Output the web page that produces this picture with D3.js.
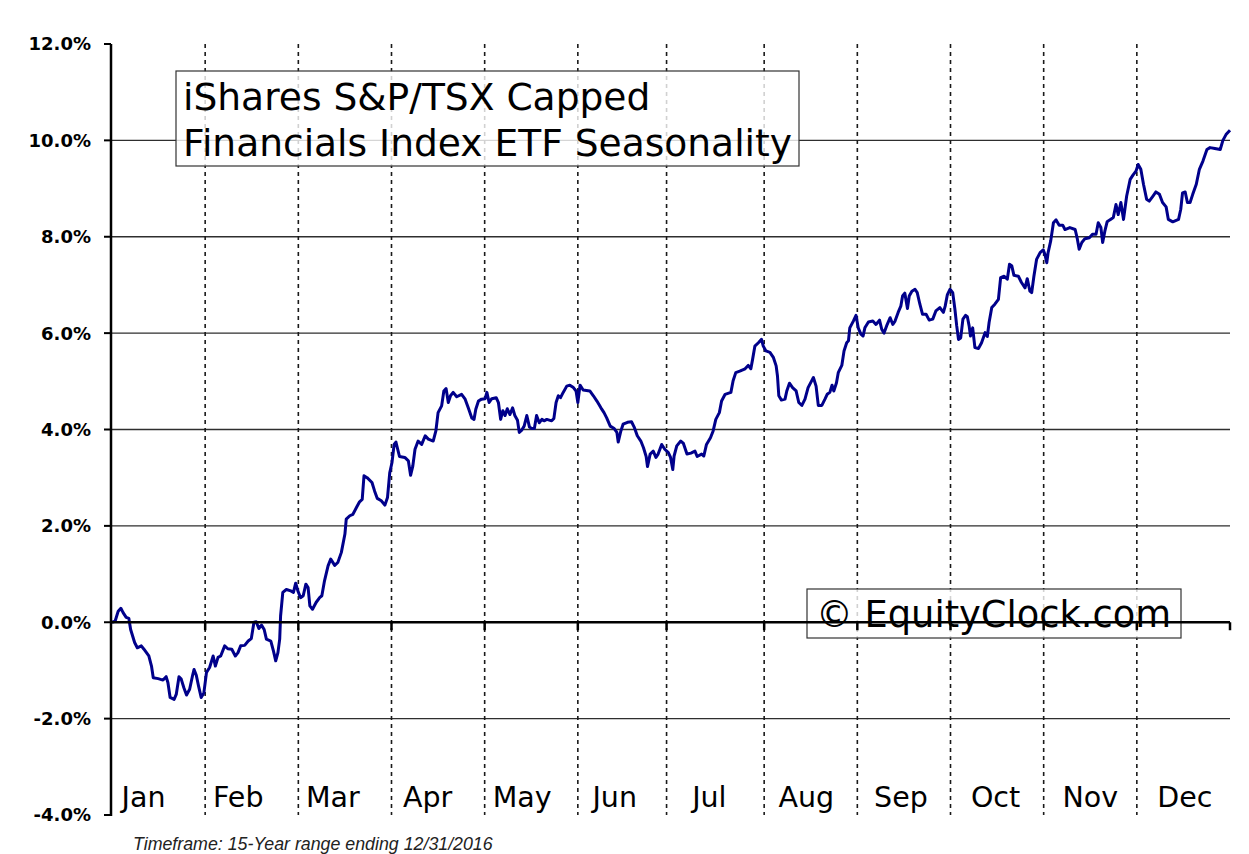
<!DOCTYPE html>
<html>
<head>
<meta charset="utf-8">
<script src="https://cdn.jsdelivr.net/npm/d3@7"></script>
<style>
  body { margin: 0; background: #ffffff; }
  svg { display: block; }
</style>
</head>
<body>
<div id="chart"></div>
<script>
// Valores de la curva estacional: [día de negociación, rendimiento medio %]
const seasonal = [
  [0,0],[0.7,0.02],[1.4,0.23],[2.0,0.29],[2.5,0.20],[3.2,0.10],[3.8,0.08],[4.2,-0.15],[5.1,-0.42],[5.7,-0.53],
  [6.6,-0.49],[7.2,-0.56],[8.3,-0.70],[8.9,-0.91],[9.3,-1.15],[10.4,-1.17],[11.5,-1.20],[12.2,-1.13],[12.6,-1.25],[13.1,-1.56],
  [14.0,-1.60],[14.5,-1.49],[15.1,-1.13],[15.6,-1.18],[16.2,-1.36],[16.8,-1.51],[17.5,-1.39],[18.1,-1.13],[18.5,-0.98],[19.0,-1.10],
  [19.5,-1.32],[20.1,-1.56],[20.7,-1.47],[21.3,-1.04],[22.0,-0.94],[22.8,-0.70],[23.3,-0.91],[23.9,-0.73],[24.5,-0.70],[25.4,-0.49],
  [26.1,-0.55],[27.0,-0.56],[27.8,-0.70],[28.4,-0.63],[29.0,-0.49],[29.9,-0.48],[30.7,-0.39],[31.4,-0.34],[32.0,0.00],[32.5,0.01],
  [33.1,-0.13],[33.7,-0.06],[34.3,-0.15],[34.8,-0.35],[35.8,-0.39],[36.4,-0.60],[36.9,-0.80],[37.4,-0.63],[37.8,-0.35],[38.0,0.13],
  [38.5,0.62],[39.3,0.68],[40.3,0.65],[40.9,0.62],[41.4,0.81],[41.9,0.65],[42.5,0.51],[43.1,0.55],[43.7,0.79],[44.2,0.72],
  [44.6,0.34],[45.2,0.27],[46.0,0.41],[46.8,0.51],[47.3,0.55],[47.9,0.86],[48.7,1.17],[49.3,1.31],[50.2,1.18],[50.9,1.24],
  [51.7,1.45],[52.5,1.83],[52.8,2.14],[53.6,2.21],[54.3,2.24],[55.1,2.38],[55.8,2.50],[56.4,2.55],[56.8,3.04],[57.5,3.00],
  [58.6,2.90],[59.2,2.72],[59.8,2.57],[60.7,2.52],[61.5,2.43],[62.1,2.59],[62.6,3.10],[63.1,3.31],[63.6,3.69],[64.0,3.74],
  [64.8,3.44],[66.0,3.42],[66.8,3.35],[67.3,3.05],[67.8,3.24],[68.3,3.59],[69.0,3.76],[69.8,3.69],[70.6,3.87],[71.3,3.80],
  [72.4,3.76],[73.0,3.97],[73.5,4.35],[74.3,4.49],[74.8,4.80],[75.3,4.85],[75.8,4.56],[76.3,4.70],[76.9,4.77],[77.7,4.68],
  [78.8,4.73],[79.6,4.63],[80.3,4.45],[81.1,4.24],[81.6,4.21],[82.0,4.42],[82.6,4.59],[83.3,4.63],[84.1,4.64],[84.5,4.77],
  [85.0,4.56],[85.6,4.64],[86.6,4.66],[87.1,4.56],[87.6,4.21],[88.1,4.39],[88.6,4.29],[89.1,4.43],[89.7,4.31],[90.3,4.45],
  [90.8,4.29],[91.4,4.19],[91.8,3.94],[92.3,3.98],[92.9,4.07],[93.5,4.29],[94.1,4.05],[94.6,4.02],[95.2,4.02],[95.7,4.29],
  [96.3,4.14],[96.9,4.21],[97.4,4.18],[98.0,4.21],[99.1,4.18],[99.6,4.23],[100.1,4.56],[100.6,4.70],[101.1,4.66],[101.7,4.77],
  [102.5,4.90],[103.2,4.92],[104.0,4.87],[104.6,4.80],[105.0,4.56],[105.5,4.92],[106.2,4.82],[107.7,4.80],[108.5,4.70],[109.3,4.59],
  [110.2,4.45],[110.9,4.35],[111.5,4.24],[112.3,4.07],[113.2,4.02],[113.8,3.94],[114.1,3.74],[114.7,3.97],[115.2,4.11],[116.2,4.15],
  [117.1,4.16],[117.7,4.05],[118.4,3.87],[119.2,3.76],[119.8,3.62],[120.4,3.44],[120.7,3.23],[121.3,3.49],[122.0,3.55],[122.6,3.42],
  [123.1,3.49],[123.9,3.69],[124.6,3.59],[125.4,3.52],[125.9,3.42],[126.4,3.17],[126.7,3.45],[127.3,3.66],[128.2,3.76],[128.8,3.71],
  [129.6,3.49],[130.5,3.51],[131.4,3.55],[131.9,3.44],[132.9,3.49],[133.4,3.45],[134.0,3.69],[134.9,3.83],[135.5,3.97],[136.1,4.21],
  [136.9,4.35],[137.4,4.59],[138.2,4.73],[139.5,4.77],[140.0,5.01],[140.6,5.18],[141.5,5.21],[142.7,5.26],[143.4,5.33],[144.0,5.26],
  [144.4,5.46],[144.9,5.73],[145.7,5.80],[146.4,5.87],[146.8,5.73],[147.4,5.63],[148.3,5.60],[149.1,5.49],[149.7,5.32],[150.0,5.11],
  [150.3,4.70],[150.9,4.61],[151.7,4.63],[152.1,4.80],[152.7,4.96],[153.4,4.87],[154.2,4.80],[154.8,4.56],[155.5,4.50],[156.2,4.63],
  [156.9,4.87],[157.7,5.01],[158.1,5.08],[158.7,4.90],[159.2,4.50],[160.0,4.50],[160.7,4.63],[161.2,4.73],[161.8,4.77],[162.3,4.92],
  [162.7,4.80],[163.3,4.97],[163.7,5.18],[164.5,5.33],[165.0,5.63],[165.6,5.80],[166.0,5.84],[166.3,6.11],[167.1,6.25],[167.7,6.37],
  [168.2,6.11],[168.8,5.98],[169.3,5.94],[169.7,6.11],[170.5,6.23],[171.5,6.25],[172.2,6.18],[173.0,6.27],[173.5,6.08],[174.0,6.00],
  [174.6,6.15],[175.4,6.32],[176.0,6.18],[176.5,6.25],[177.2,6.43],[177.8,6.56],[178.2,6.77],[178.7,6.83],[179.3,6.51],[179.7,6.77],
  [180.3,6.87],[181.0,6.91],[181.5,6.84],[182.1,6.60],[182.7,6.39],[183.5,6.39],[184.2,6.27],[185.0,6.29],[185.7,6.46],[186.6,6.53],
  [187.4,6.43],[187.8,6.56],[188.3,6.80],[188.9,6.91],[189.5,6.84],[190.0,6.49],[190.4,6.15],[190.8,5.87],[191.3,5.90],[191.8,6.29],
  [192.4,6.37],[192.8,6.34],[193.2,6.15],[193.5,5.94],[194.0,6.11],[194.5,5.70],[195.3,5.68],[196.0,5.80],[196.8,6.01],[197.3,5.93],
  [197.7,6.22],[198.3,6.53],[199.0,6.60],[199.8,6.70],[200.3,7.15],[201.1,7.18],[201.8,7.12],[202.3,7.43],[202.8,7.40],[203.3,7.20],
  [204.3,7.18],[205.0,7.05],[205.8,6.94],[206.3,7.13],[206.9,6.87],[207.3,6.84],[207.8,7.18],[208.4,7.53],[209.2,7.67],[209.9,7.73],
  [210.3,7.63],[210.7,7.46],[211.0,7.67],[211.6,7.92],[212.2,8.29],[212.8,8.35],[213.5,8.24],[214.3,8.24],[214.8,8.15],[215.9,8.19],
  [217.1,8.15],[217.6,7.95],[218.0,7.74],[218.6,7.88],[219.3,7.96],[220.3,7.98],[221.0,8.05],[221.8,8.05],[222.3,8.29],[222.9,8.19],
  [223.3,7.88],[223.8,8.12],[224.3,8.31],[224.9,8.35],[225.7,8.40],[226.3,8.67],[226.8,8.46],[227.4,8.71],[228.0,8.36],[228.7,8.84],
  [229.5,9.19],[230.2,9.29],[230.8,9.36],[231.3,9.50],[231.9,9.40],[232.5,9.09],[233.2,8.78],[233.8,8.74],[234.6,8.84],[235.3,8.93],
  [236.1,8.88],[236.8,8.71],[237.6,8.62],[238.1,8.36],[239.1,8.31],[240.4,8.36],[240.9,8.57],[241.3,8.91],[241.9,8.93],[242.4,8.71],
  [243.0,8.71],[243.6,8.88],[244.4,9.09],[245.1,9.40],[245.9,9.57],[246.8,9.81],[247.5,9.85],[248.6,9.83],[249.8,9.81],[250.4,10.00],
  [251.1,10.12],[252.0,10.21]
];

const months = ["Jan", "Feb", "Mar", "Apr", "May", "Jun", "Jul", "Aug", "Sep", "Oct", "Nov", "Dec"];
// Día de negociación en que empieza cada mes (el último es el fin de año)
const monthStartDay = [0, 21, 42, 63, 84, 105, 125, 147, 168, 189, 210, 231, 252];
const yTicks = [-4, -2, 0, 2, 4, 6, 8, 10, 12];

const titleLines = ["iShares S&P/TSX Capped", "Financials Index ETF Seasonality"];
const watermark = "\u00A9 EquityClock.com";
const footnote = "Timeframe: 15-Year range ending 12/31/2016";

// Configuración del gráfico
const W = 1249, H = 854;
const plot = { left: 112, right: 1230, top: 44, bottom: 815 };

const svg = d3.select("#chart")
    .append("svg")
    .attr("width", W)
    .attr("height", H);

svg.append("rect").attr("width", W).attr("height", H).attr("fill", "#ffffff");

// Escalas
const x = d3.scaleLinear()
    .domain([0, 252])
    .range([plot.left, plot.right]);

const y = d3.scaleLinear()
    .domain([-4, 12])
    .range([plot.bottom, plot.top]);

// Formato con guion normal, como en el original
const pct = d => (d < 0 ? "-" : "") + Math.abs(d).toFixed(1) + "%";

// Líneas horizontales de la cuadrícula
svg.append("g")
    .selectAll("line")
    .data(yTicks.filter(d => d !== 0 && d !== -4 && d !== 12))
    .enter()
    .append("line")
    .attr("x1", plot.left)
    .attr("x2", plot.right)
    .attr("y1", d => y(d))
    .attr("y2", d => y(d))
    .attr("stroke", "#2e2e2e")
    .attr("stroke-width", 1.4);

// Separadores de mes (punteados)
svg.append("g")
    .selectAll("line")
    .data(monthStartDay.slice(1, -1))
    .enter()
    .append("line")
    .attr("x1", d => x(d))
    .attr("x2", d => x(d))
    .attr("y1", plot.top)
    .attr("y2", plot.bottom)
    .attr("stroke", "#1a1a1a")
    .attr("stroke-width", 1.6)
    .attr("stroke-dasharray", "4,4");

// Cuadro del título
const titleBox = svg.append("g");
titleBox.append("rect")
    .attr("x", 176).attr("y", 71)
    .attr("width", 623).attr("height", 95)
    .attr("fill", "#ffffff").attr("fill-opacity", 0.8)
    .attr("stroke", "#333").attr("stroke-width", 1.2);
titleBox.selectAll("text")
    .data(titleLines)
    .enter()
    .append("text")
    .attr("x", 183)
    .attr("y", (d, i) => 110 + i * 46)
    .attr("font-family", "'DejaVu Sans', Verdana, sans-serif")
    .attr("font-size", "37.6px")
    .attr("fill", "#000")
    .text(d => d);

// Marca de agua
const wm = svg.append("g");
wm.append("rect")
    .attr("x", 807).attr("y", 589)
    .attr("width", 374).attr("height", 49)
    .attr("fill", "#ffffff").attr("fill-opacity", 0.8)
    .attr("stroke", "#333").attr("stroke-width", 1.2);
wm.append("text")
    .attr("x", 816)
    .attr("y", 627)
    .attr("font-family", "'DejaVu Sans', Verdana, sans-serif")
    .attr("font-size", "36.8px")
    .attr("fill", "#000")
    .text(watermark);

// Curva estacional
const line = d3.line()
    .x(d => x(d[0]))
    .y(d => y(d[1]));

svg.append("path")
    .datum(seasonal)
    .attr("d", line)
    .attr("fill", "none")
    .attr("stroke", "#00008b")
    .attr("stroke-width", 3)
    .attr("stroke-linejoin", "round");

// Eje Y
const yAxis = svg.append("g");
yAxis.append("line")
    .attr("x1", plot.left - 1).attr("x2", plot.left - 1)
    .attr("y1", plot.top).attr("y2", plot.bottom + 1)
    .attr("stroke", "#000").attr("stroke-width", 2.5);
yAxis.selectAll("line.tick")
    .data(yTicks)
    .enter()
    .append("line")
    .attr("class", "tick")
    .attr("x1", plot.left - 8).attr("x2", plot.left - 1)
    .attr("y1", d => y(d)).attr("y2", d => y(d))
    .attr("stroke", "#000").attr("stroke-width", 2);
yAxis.selectAll("text")
    .data(yTicks)
    .enter()
    .append("text")
    .attr("x", 91)
    .attr("y", d => y(d))
    .attr("dy", "0.36em")
    .attr("text-anchor", "end")
    .attr("font-family", "'DejaVu Sans', Verdana, sans-serif")
    .attr("font-weight", "bold")
    .attr("font-size", "18px")
    .attr("fill", "#000")
    .text(d => pct(d));

// Eje X en 0%
const xAxis = svg.append("g");
xAxis.append("line")
    .attr("x1", plot.left - 1).attr("x2", plot.right)
    .attr("y1", y(0)).attr("y2", y(0))
    .attr("stroke", "#000").attr("stroke-width", 2.5);
xAxis.selectAll("line.tick")
    .data(monthStartDay.slice(1))
    .enter()
    .append("line")
    .attr("class", "tick")
    .attr("x1", d => x(d)).attr("x2", d => x(d))
    .attr("y1", y(0)).attr("y2", y(0) + 8)
    .attr("stroke", "#000").attr("stroke-width", 2.5);

// Etiquetas de los meses
svg.append("g")
    .selectAll("text")
    .data(months)
    .enter()
    .append("text")
    .attr("x", (d, i) => (x(monthStartDay[i]) + x(monthStartDay[i + 1])) / 2 - 15 + i * 1.5)
    .attr("y", 807)
    .attr("text-anchor", "middle")
    .attr("font-family", "'DejaVu Sans', Verdana, sans-serif")
    .attr("font-size", "28.5px")
    .attr("fill", "#000")
    .text(d => d);

// Nota al pie
svg.append("text")
    .attr("x", 133)
    .attr("y", 850)
    .attr("font-family", "'Liberation Sans', Arial, sans-serif")
    .attr("font-style", "italic")
    .attr("font-size", "17.8px")
    .attr("fill", "#222")
    .text(footnote);
</script>
</body>
</html>
